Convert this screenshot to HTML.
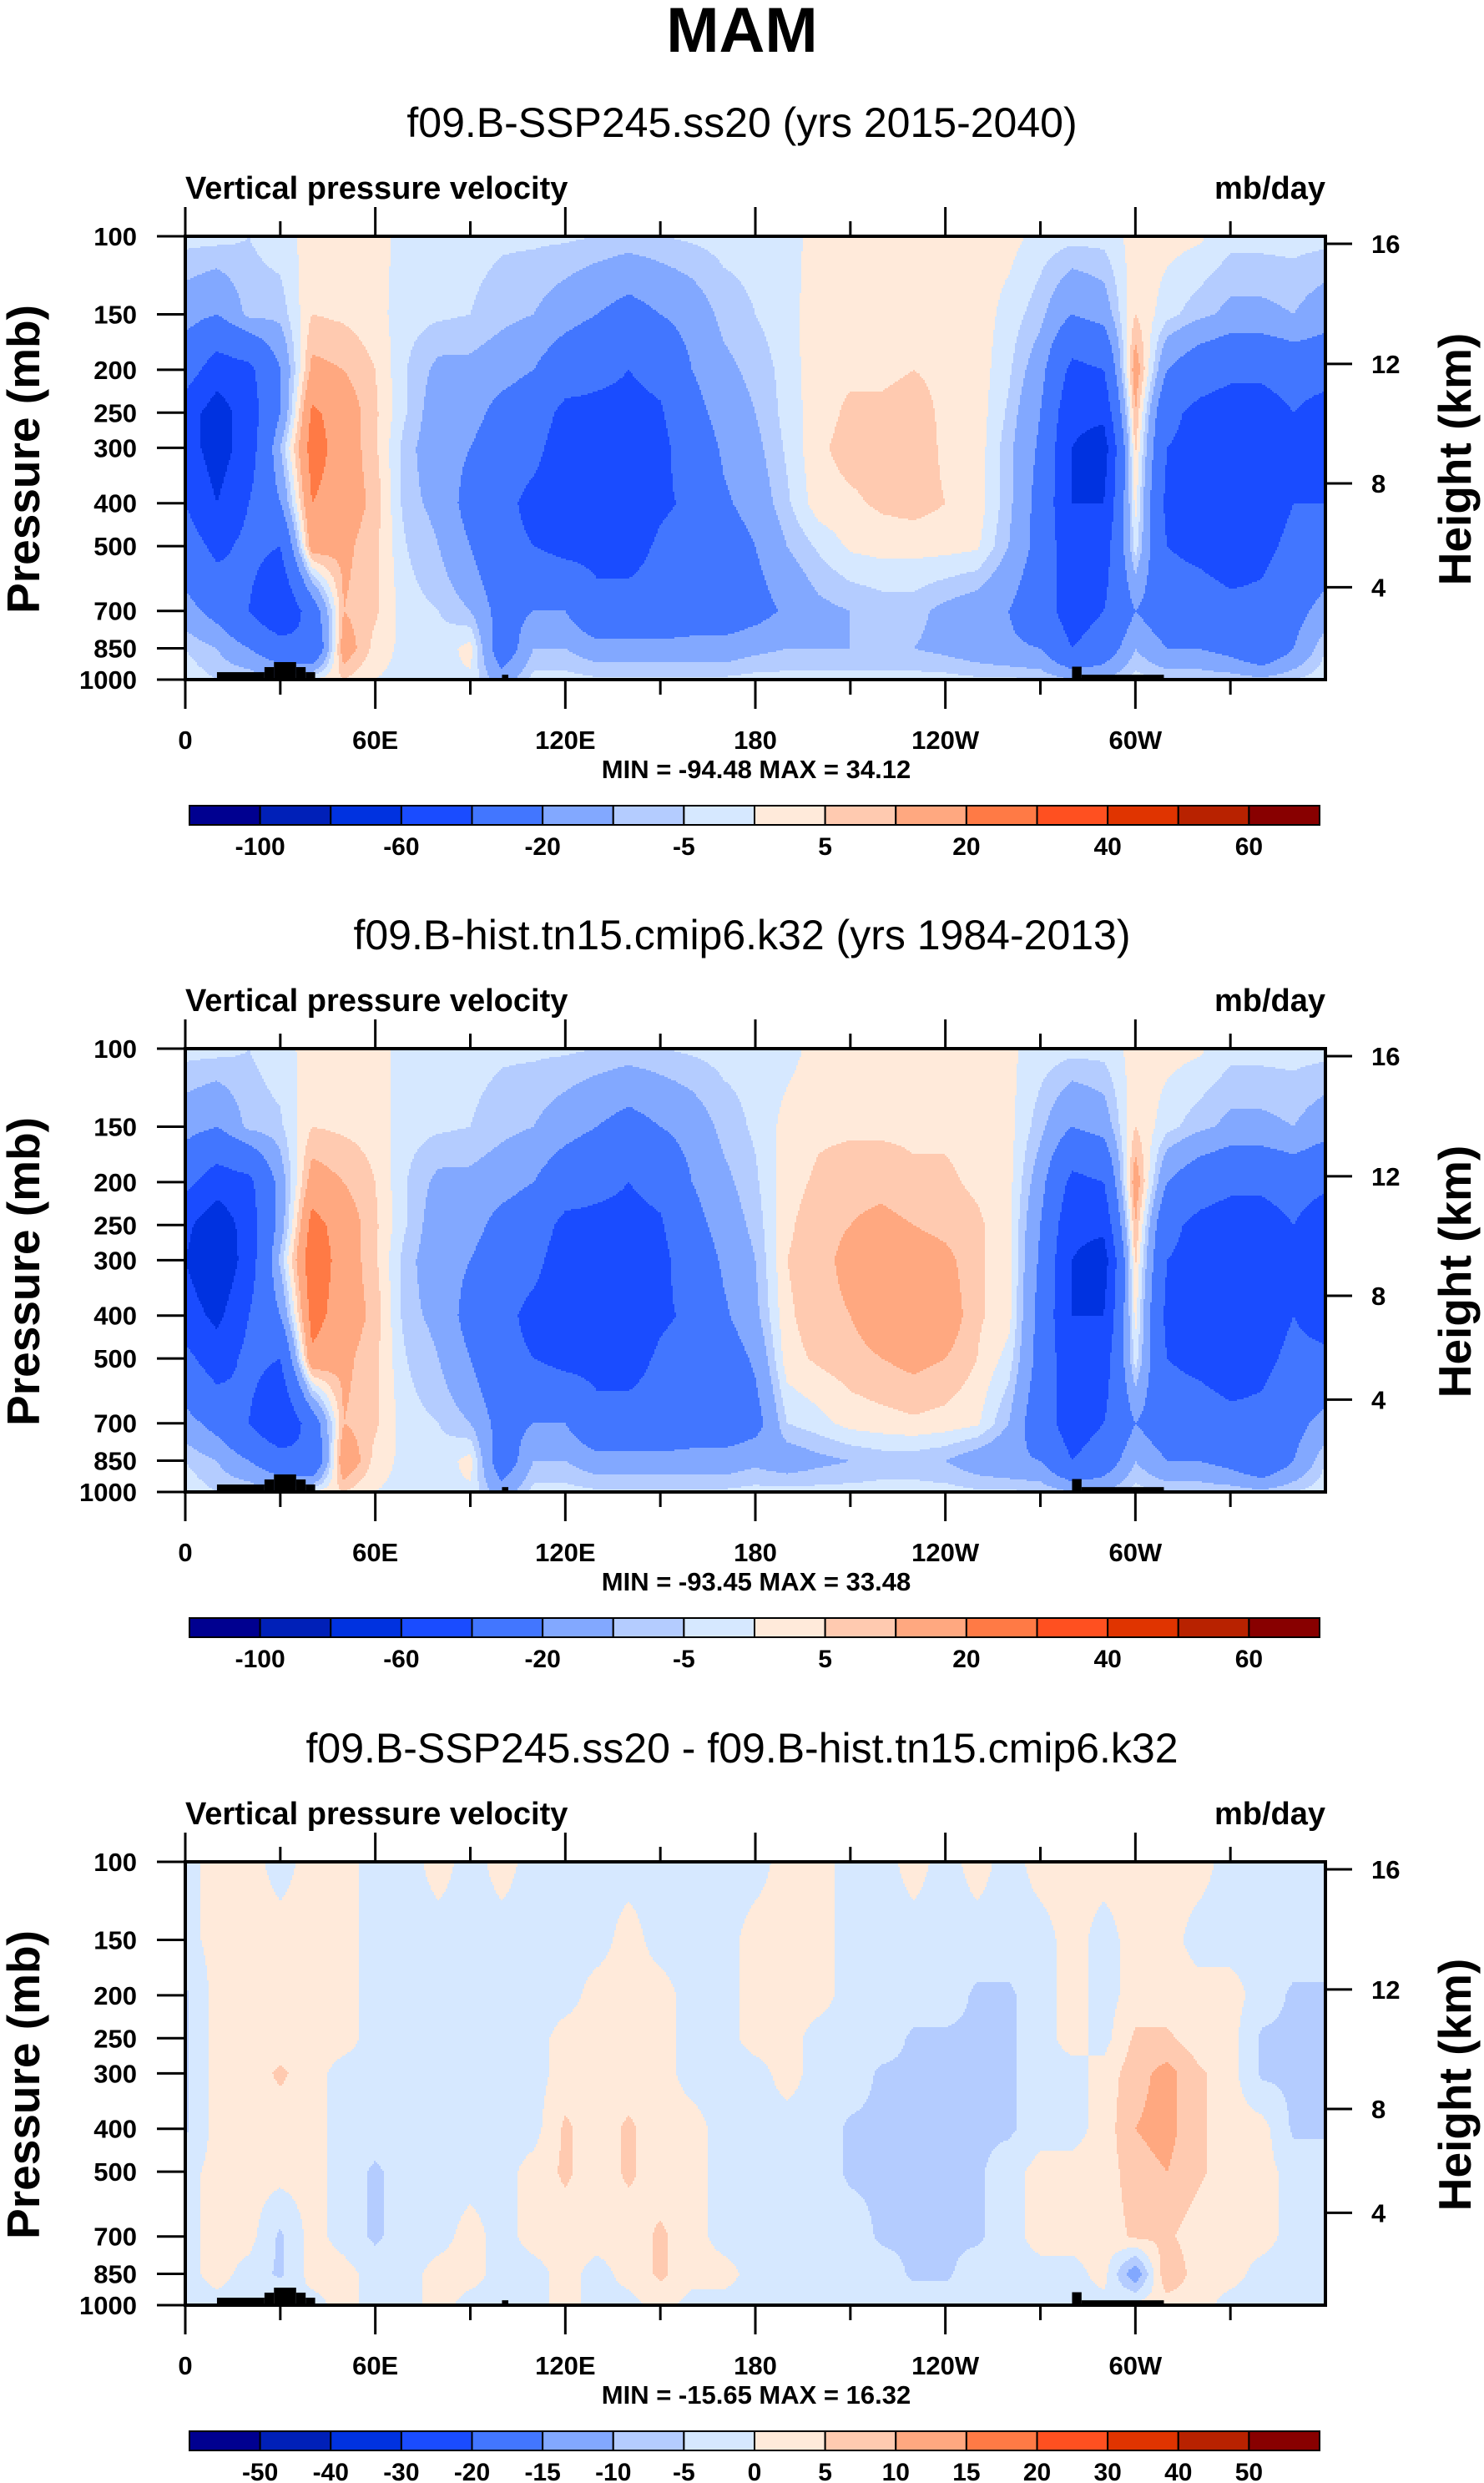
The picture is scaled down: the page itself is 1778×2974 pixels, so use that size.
<!DOCTYPE html>
<html><head><meta charset="utf-8">
<style>
html,body{margin:0;padding:0;background:#fff;}
body{width:1778px;height:2974px;overflow:hidden;}
svg{display:block;font-family:"Liberation Sans",Arial,sans-serif;}
</style></head>
<body>
<svg id="fig" width="1778" height="2974" viewBox="0 0 1778 2974" xmlns="http://www.w3.org/2000/svg">
<text x="889" y="62" text-anchor="middle" font-size="76" font-weight="bold">MAM</text>
</svg>
<script>
// ---------- data ----------
const levels = [100,150,200,250,300,400,500,700,850,1000];
const lons = [0,10,20,30,40,50,60,70,80,90,100,110,120,130,140,150,160,170,180,190,200,210,220,230,240,250,260,270,280,290,300,310,320,330,340,350,360];
const xTickLabels = ["0","60E","120E","180","120W","60W"];
const pTickLabels = [100,150,200,250,300,400,500,700,850,1000];
const zTickLabels = [16,12,8,4];
const zTickPressure = [104,194,361,619];
const barLevelsAbs = [-100,-80,-60,-40,-20,-10,-5,0,5,10,20,30,40,50,60];
const barLabelsAbs = ["-100","","-60","","-20","","-5","","5","","20","","40","","60"];
const barLevelsDiff = [-50,-40,-30,-20,-15,-10,-5,0,5,10,15,20,30,40,50];
const barLabelsDiff = ["-50","-40","-30","-20","-15","-10","-5","0","5","10","15","20","30","40","50"];
const colors = ["#000090","#0020b8","#0032e0","#1a4cff","#4276ff","#82a8ff","#b4ccff","#d6e8ff","#ffeada","#ffcab0","#ffa880","#ff7a45","#ff5020","#e03400","#b82200","#880000"];
// topography: [lon0, lon1, top pressure]
const topo = [[10,25,962],[25,28,937],[28,35,913],[35,38,937],[38,41,962],[100,102,975],[280,283,935],[283,309,975]];

// columns by longitude (values at levels 100..1000), mb/day
const ssp = [
[-3,-15,-30,-50,-50,-40,-30,-15,-5,-2],
[-3,-20,-50,-70,-70,-60,-45,-25,-10,-5],
[-5,-8,-45,-50,-50,-40,-35,-40,-20,-5],
[-2,-8,-20,-20,-10,-20,-40,-60,-30,-10],
[2,5,12,22,25,20,15,-30,-40,0],
[2,4,10,15,15,15,12,10,15,5],
[2,2,5,6,6,8,6,6,3,0],
[-2,-3,-5,-5,-8,-8,-5,-3,-2,-2],
[-2,-4,-12,-15,-15,-12,-10,-5,-3,-1],
[-3,-5,-12,-15,-20,-25,-20,-10,2,-1],
[-4,-8,-15,-25,-30,-35,-35,-25,-30,-15],
[-4,-10,-20,-30,-35,-45,-40,-20,-10,-3],
[-4,-15,-30,-45,-50,-50,-45,-20,-10,-3],
[-5,-20,-35,-45,-50,-50,-45,-35,-15,-4],
[-6,-25,-40,-45,-50,-50,-45,-35,-15,-4],
[-5,-20,-35,-42,-45,-42,-38,-35,-15,-4],
[-4,-15,-20,-25,-30,-38,-35,-30,-15,-4],
[-3,-8,-12,-15,-18,-22,-28,-30,-15,-4],
[-3,-5,-8,-10,-12,-15,-20,-25,-12,-3],
[-2,-2,-3,-3,-4,-6,-10,-18,-10,-3],
[2,3,4,3,4,3,-4,-12,-10,-3],
[2,3,4,6,7,4,1,-10,-10,-3],
[2,3,4,6,7,6,2,-8,-10,-3],
[2,3,5,7,8,7,2,-8,-10,-3],
[2,3,4,4,4,5,2,-12,-12,-3],
[2,3,3,3,3,3,1,-15,-15,-4],
[2,-2,-4,-6,-8,-8,-10,-20,-18,-4],
[-2,-8,-15,-20,-22,-25,-25,-30,-20,-5],
[-3,-20,-45,-55,-60,-60,-55,-50,-40,-10],
[-3,-15,-40,-55,-70,-60,-50,-40,-30,-10],
[2,5,15,10,6,2,-2,-20,-10,-3],
[2,-3,-20,-35,-40,-45,-40,-30,-20,-5],
[1,-8,-30,-45,-45,-45,-45,-30,-20,-5],
[-3,-12,-35,-50,-55,-50,-50,-35,-25,-6],
[-3,-12,-35,-50,-55,-50,-45,-35,-35,-8],
[-3,-10,-30,-40,-40,-40,-35,-25,-20,-5],
[-3,-15,-30,-50,-50,-40,-30,-15,-5,-2]];

const hist = [
[-3,-15,-35,-55,-60,-50,-35,-15,-5,-2],
[-3,-20,-50,-75,-80,-65,-50,-25,-10,-5],
[-5,-8,-45,-50,-50,-40,-35,-40,-20,-5],
[-2,-6,-15,-15,-8,-20,-40,-60,-30,-10],
[2,5,14,24,28,24,18,-30,-40,0],
[2,4,10,15,15,15,12,10,18,5],
[2,3,5,6,6,8,6,6,3,0],
[-2,-3,-5,-5,-8,-8,-5,-3,-2,-2],
[-2,-4,-12,-15,-15,-12,-10,-5,-3,-1],
[-3,-5,-12,-15,-20,-25,-20,-10,2,-1],
[-4,-8,-15,-25,-30,-35,-35,-25,-30,-15],
[-4,-10,-20,-30,-35,-45,-40,-20,-10,-3],
[-4,-15,-30,-45,-50,-50,-45,-20,-10,-3],
[-5,-20,-35,-45,-50,-50,-45,-35,-15,-4],
[-6,-25,-40,-45,-50,-50,-45,-35,-15,-4],
[-5,-20,-35,-42,-45,-42,-38,-35,-15,-4],
[-4,-15,-20,-25,-30,-38,-35,-30,-15,-4],
[-3,-8,-12,-15,-18,-22,-28,-30,-15,-4],
[-3,-4,-6,-8,-10,-12,-18,-25,-12,-3],
[-2,2,3,4,5,4,3,-5,-15,-3],
[2,4,6,8,8,8,6,-2,-12,-3],
[2,4,8,10,12,10,8,2,-10,-3],
[2,4,8,12,15,14,10,3,-8,-3],
[2,4,6,10,14,15,12,4,-8,-3],
[2,4,6,8,12,15,10,3,-10,-3],
[2,3,4,6,6,6,5,1,-15,-4],
[1,2,2,2,2,2,-2,-10,-18,-4],
[-2,-8,-15,-20,-22,-25,-25,-30,-20,-5],
[-3,-20,-45,-55,-60,-60,-55,-50,-40,-10],
[-3,-15,-40,-55,-70,-60,-50,-40,-30,-10],
[2,5,15,10,6,2,-2,-20,-10,-3],
[2,-3,-20,-35,-40,-45,-40,-30,-20,-5],
[1,-8,-30,-45,-45,-45,-45,-30,-20,-5],
[-3,-12,-35,-50,-55,-50,-50,-35,-25,-6],
[-3,-12,-35,-50,-55,-50,-45,-35,-35,-8],
[-3,-10,-30,-40,-40,-40,-35,-25,-20,-5],
[-3,-15,-35,-55,-60,-50,-35,-15,-5,-2]];

const diff = [
[-2,-2,-6,-6,-6,-6,-2,-2,-2,-2],
[2,2,2,2,2,2,2,2,2,-2],
[2,2,2,2,2,2,2,2,-2,-2],
[-2,2,2,2,6,2,2,-6,-6,2],
[2,2,2,2,2,2,2,2,2,-2],
[2,2,2,2,-2,-2,-2,-2,2,2],
[-2,-2,-2,-2,-2,-2,-6,-6,-2,-2],
[-2,-2,-2,-2,-2,-2,-2,-2,-2,-2],
[2,-2,-2,-2,-2,-2,-2,-2,2,2],
[-2,-2,-2,-2,-2,-2,-2,2,2,-2],
[2,-2,-2,-2,-2,-2,-2,-2,-2,-2],
[-2,-2,-2,-2,-2,-2,2,2,-2,-2],
[-2,-2,-2,2,2,6,6,2,2,2],
[-2,-2,2,2,2,2,2,2,-2,-2],
[-2,2,2,2,2,6,6,2,2,-2],
[-2,-2,2,2,2,2,2,6,6,2],
[-2,-2,-2,-2,-2,2,2,2,2,-2],
[-2,-2,-2,-2,-2,-2,-2,-2,2,-2],
[-2,2,2,2,-2,-2,-2,-2,-2,-2],
[2,2,2,2,2,-2,-2,-2,-2,-2],
[2,2,2,-2,-2,-2,-2,-2,-2,-2],
[-2,-2,-2,-2,-2,-6,-6,-2,-2,-2],
[-2,-2,-2,-2,-6,-6,-6,-6,-2,-2],
[2,-2,-2,-6,-6,-6,-6,-6,-6,-2],
[-2,-2,-2,-6,-6,-6,-6,-6,-6,-2],
[2,-2,-6,-6,-6,-6,-6,-6,-2,-2],
[-2,-2,-6,-6,-6,-6,-2,-2,-2,-2],
[2,-2,-2,-2,-2,-2,2,2,-2,-2],
[2,2,2,2,-2,-2,2,2,-2,-2],
[2,-2,-2,-2,2,2,2,2,2,-2],
[2,2,2,6,8,10,8,6,-15,2],
[2,2,2,6,12,12,10,6,10,2],
[2,-2,2,2,6,6,6,2,2,2],
[-2,-2,2,2,2,2,2,2,2,-2],
[-2,-2,-2,-6,-6,2,2,2,-2,-2],
[-2,-2,-6,-6,-6,-6,-2,-2,-2,-2],
[-2,-2,-6,-6,-6,-6,-2,-2,-2,-2]];

const panels = [
 {name:"ssp", off:0, data:ssp, lev:barLevelsAbs, lab:barLabelsAbs, sub:"f09.B-SSP245.ss20 (yrs 2015-2040)", mm:"MIN = -94.48  MAX =  34.12"},
 {name:"hist", off:973, data:hist, lev:barLevelsAbs, lab:barLabelsAbs, sub:"f09.B-hist.tn15.cmip6.k32 (yrs 1984-2013)", mm:"MIN = -93.45  MAX =  33.48"},
 {name:"diff", off:1947, data:diff, lev:barLevelsDiff, lab:barLabelsDiff, sub:"f09.B-SSP245.ss20 - f09.B-hist.tn15.cmip6.k32", mm:"MIN = -15.65  MAX =  16.32"}
];

// ---------- geometry ----------
const L=222, R=1588, T=283, B=814;
const NS="http://www.w3.org/2000/svg";
const svg=document.getElementById('fig');
function xOf(lon){return L+(lon/360)*(R-L);}
function yOf(p,off){return T+off+(B-T)*Math.log10(p/100);}
function el(tag,attrs,parent){const e=document.createElementNS(NS,tag);for(const k in attrs)e.setAttribute(k,attrs[k]);(parent||svg).appendChild(e);return e;}
function txt(s,attrs,parent){const e=el('text',attrs,parent);e.textContent=s;return e;}
function classify(v,lev){let i=0;while(i<lev.length&&v>=lev[i])i++;return i;}
function sample(data,lon,p){
  const fi=lon/10; let i=Math.min(Math.floor(fi),35); const fx=fi-i;
  const lp=Math.log10(p); let j=0;
  while(j<levels.length-2&&lp>Math.log10(levels[j+1]))j++;
  const l0=Math.log10(levels[j]),l1=Math.log10(levels[j+1]);
  const fy=Math.max(0,Math.min(1,(lp-l0)/(l1-l0)));
  const a=data[i][j],b=data[i+1][j],c=data[i][j+1],d=data[i+1][j+1];
  return (a*(1-fx)+b*fx)*(1-fy)+(c*(1-fx)+d*fx)*fy;
}

panels.forEach(P=>{
  const off=P.off;
  const g=el('g',{});
  
  
  const sub=txt(P.sub,{x:889,y:164+off,'text-anchor':'middle','font-size':50},g);
  
  
  const vt=txt("Vertical pressure velocity",{x:222,y:238+off,'font-size':38,'font-weight':'bold'},g);
  
  
  const un=txt("mb/day",{x:1588,y:238+off,'text-anchor':'end','font-size':38,'font-weight':'bold'},g);
  
  

  // contour fill
  const field=el('g',{},g);
  
  
  const dy=2, dx=2;
  for(let y=T+off;y<B+off;y+=dy){
    const yc=y+dy/2-off;
    const p=100*Math.pow(10,(yc-T)/(B-T));
    let start=L,cur=-1;
    for(let x=L;x<=R;x+=dx){
      let c=-2;
      if(x<R){const lon=(x+dx/2-L)/(R-L)*360;c=classify(sample(P.data,lon,p),P.lev);}
      if(c!==cur){
        if(cur>=0){const r=el('rect',{x:start,y:y,width:x-start+0.6,height:dy+0.6,fill:colors[cur]},field);
          
          }
        start=x;cur=c;
      }
    }
  }
  // topography
  topo.forEach(t=>{
    const r=el('rect',{x:xOf(t[0]),y:yOf(t[2],off),width:xOf(t[1])-xOf(t[0]),height:B+off-yOf(t[2],off),fill:'#000'},g);
    
    
  });
  // frame
  const fr=el('rect',{x:L,y:T+off,width:R-L,height:B-T,fill:'none',stroke:'#000','stroke-width':4},g);
  
  
  // x ticks
  for(let k=0;k<=11;k++){
    const x=xOf(k*30),len=(k%2===0)?35:18;
    el('line',{x1:x,y1:T+off,x2:x,y2:T+off-len,stroke:'#000','stroke-width':3},g);
    el('line',{x1:x,y1:B+off,x2:x,y2:B+off+len,stroke:'#000','stroke-width':3},g);
  }
  xTickLabels.forEach((s,k)=>{
    const t=txt(s,{x:xOf(k*60),y:897+off,'text-anchor':'middle','font-size':31,'font-weight':'bold'},g);
    
    
  });
  // pressure ticks
  pTickLabels.forEach(p=>{
    const y=yOf(p,off);
    el('line',{x1:188,y1:y,x2:L,y2:y,stroke:'#000','stroke-width':3},g);
    const t=txt(String(p),{x:164,y:y+11,'text-anchor':'end','font-size':31,'font-weight':'bold'},g);
    
    
  });
  // height ticks
  zTickLabels.forEach((z,k)=>{
    const y=yOf(zTickPressure[k],off);
    el('line',{x1:R,y1:y,x2:R+32,y2:y,stroke:'#000','stroke-width':3},g);
    const t=txt(String(z),{x:1643,y:y+11,'font-size':31,'font-weight':'bold'},g);
    
    
  });
  const yl=txt("Pressure (mb)",{x:0,y:0,'text-anchor':'middle','font-size':55,'font-weight':'bold',transform:`translate(47,${550+off}) rotate(-90)`},g);
  
  
  const yr=txt("Height (km)",{x:0,y:0,'text-anchor':'middle','font-size':55,'font-weight':'bold',transform:`translate(1762,${550+off}) rotate(-90)`},g);
  
  
  const mm=txt(P.mm,{x:906,y:932+off,'text-anchor':'middle','font-size':31,'font-weight':'bold'},g);
  
  
  // colorbar
  const cb=el('g',{},g);
  
  
  const cx0=227,cx1=1581,cw=(cx1-cx0)/16;
  colors.forEach((c,k)=>{
    const r=el('rect',{x:cx0+k*cw,y:965+off,width:cw,height:23,fill:c,stroke:'#000','stroke-width':2},cb);
    
    
  });
  P.lab.forEach((s,k)=>{
    if(!s)return;
    const t=txt(s,{x:cx0+(k+1)*cw,y:1024+off,'text-anchor':'middle','font-size':30,'font-weight':'bold'},cb);
    
    
  });
});
</script>
</body></html>
